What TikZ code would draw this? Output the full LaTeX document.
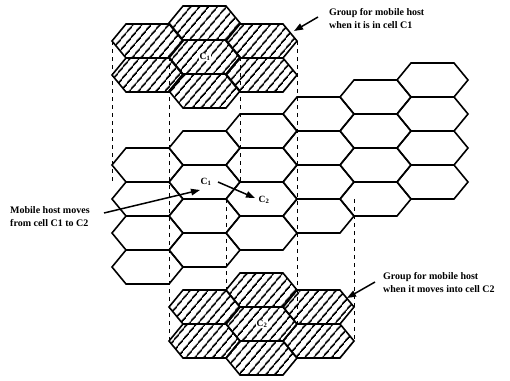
\documentclass[tikz,border=0pt]{standalone}
\usepackage{fontspec}
\setmainfont{Liberation Serif}
\usetikzlibrary{patterns.meta,arrows.meta}
\begin{document}
\begin{tikzpicture}[x=1pt,y=-1pt,
  cell/.style={draw=black,line width=1.6pt,line join=miter},
  hcell/.style={cell,pattern={Lines[angle=50,distance=6.5pt,line width=1.8pt]}},
  proj/.style={line width=0.9pt,dash pattern=on 4pt off 4pt},
  arr/.style={line width=1.5pt,-{Triangle[length=9pt,width=6.5pt]}},
  lbl/.style={font=\bfseries\fontsize{10}{13}\selectfont,align=left,inner sep=0pt,anchor=north west},
  cname/.style={font=\bfseries\fontsize{9.5}{10}\selectfont,inner sep=1pt},
  gname/.style={cname,fill=white,inner sep=0.6pt}]
\useasboundingbox (0,0) rectangle (510,380);
\newcommand\hexcell[3]{\draw[#1] (#2-35.5,#3) -- (#2-21.5,#3-17) -- (#2+21.5,#3-17) -- (#2+35.5,#3) -- (#2+21.5,#3+17) -- (#2-21.5,#3+17) -- cycle;}
% middle grid
\foreach \c/\t in {147.5/165,204.5/148,261.5/131,318.5/114,375.5/97,432.5/80}{
  \foreach \r in {0,1,2,3}{\pgfmathsetmacro\yy{\t+34*\r}\hexcell{cell}{\c}{\yy}}}
% top group
\foreach \c/\y in {147.5/41,147.5/75,204.5/23,204.5/57,204.5/91,261.5/41,261.5/75}{\hexcell{hcell}{\c}{\y}}
% bottom group
\foreach \c/\y in {204.5/307,204.5/341,261.5/290,261.5/324,261.5/358,318.5/307,318.5/341}{\hexcell{hcell}{\c}{\y}}
% projection lines
\coordinate (d1a) at (112,41);  \coordinate (d1b) at (112,182);
\coordinate (d2a) at (169,57);  \coordinate (d2b) at (169,341);
\coordinate (d3a) at (240,57);  \coordinate (d3b) at (240,182);
\coordinate (d4a) at (297,41);  \coordinate (d4b) at (297,324);
\coordinate (d5a) at (226,199); \coordinate (d5b) at (226,290);
\coordinate (d6a) at (354,199); \coordinate (d6b) at (354,341);
\draw[proj] (d1a) -- (d1b);
\draw[proj] (d2a) -- (d2b);
\draw[proj] (d3a) -- (d3b);
\draw[proj] (d4a) -- (d4b);
\draw[proj] (d5a) -- (d5b);
\draw[proj] (d6a) -- (d6b);
% cell names
\node[gname] (ctop) at (205,57) {C\textsubscript{1}};
\node[gname] (cbot) at (262,324) {C\textsubscript{2}};
\node[cname] (c1m) at (206,182) {C\textsubscript{1}};
\node[cname] (c2m) at (264,200) {C\textsubscript{2}};
% labels
\node[lbl] (gtop) at (329,8) {Group for mobile host\\when it is in cell C1};
\node[lbl] (mh) at (10,206) {Mobile host moves\\from cell C1 to C2};
\node[lbl] (gbot) at (383,272) {Group for mobile host\\when it moves into cell C2};
% arrows
\coordinate (a1s) at (318,17); \coordinate (a1e) at (294,31);
\coordinate (a2s) at (104,213); \coordinate (a2e) at (200,190);
\coordinate (a3s) at (218,182); \coordinate (a3e) at (255,198);
\coordinate (a4s) at (375,282); \coordinate (a4e) at (347,298);
\draw[arr] (a1s) -- (a1e);
\draw[arr] (a2s) -- (a2e);
\draw[arr] (a3s) -- (a3e);
\draw[arr] (a4s) -- (a4e);
\end{tikzpicture}
\end{document}
